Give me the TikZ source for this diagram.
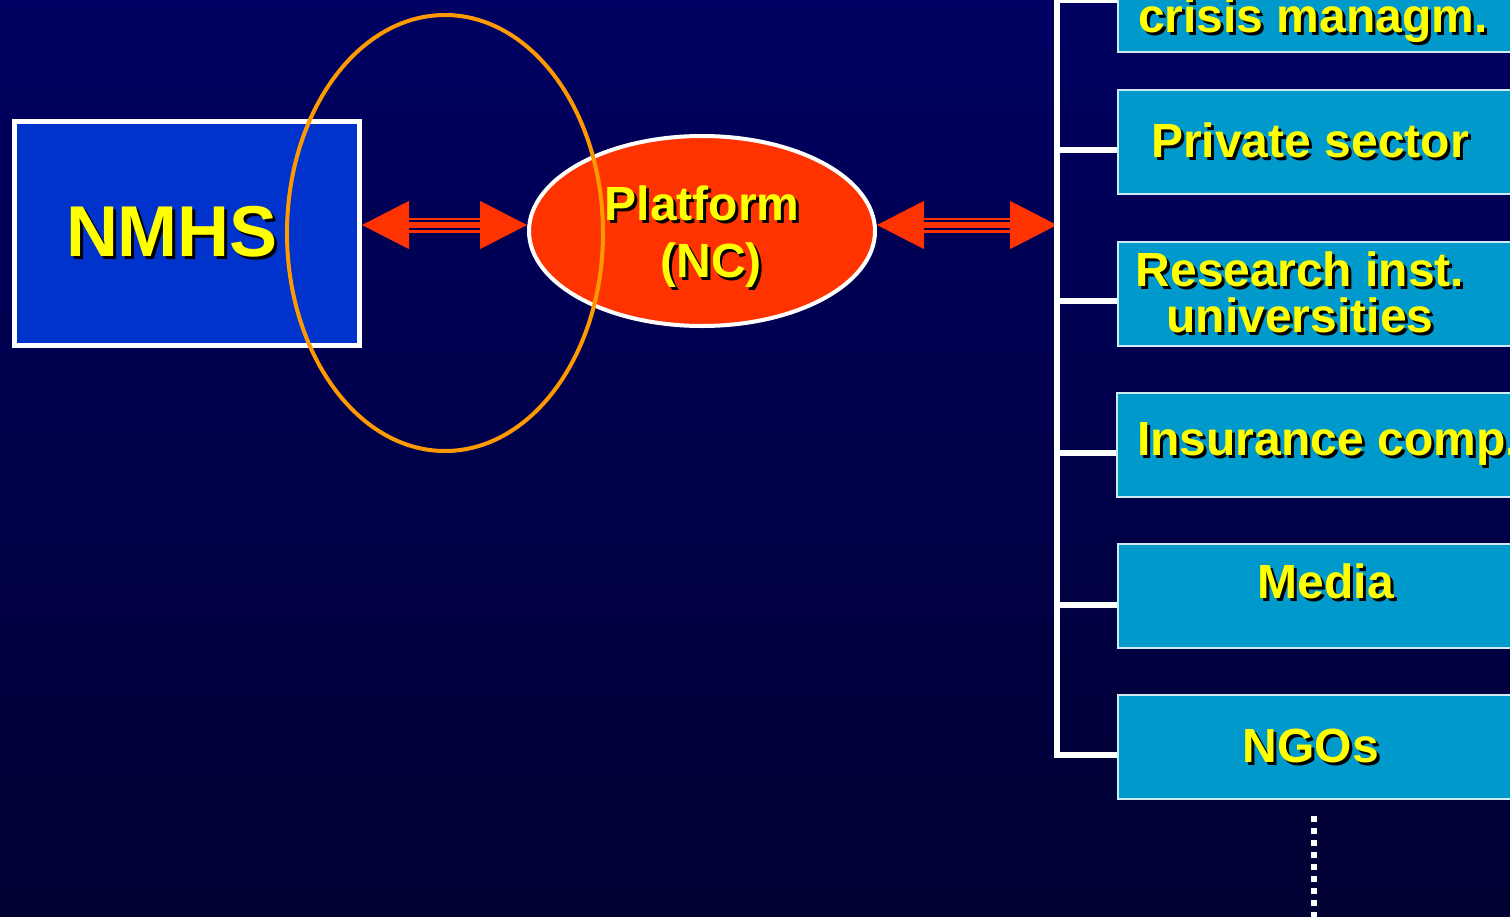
\documentclass[tikz,border=0pt]{standalone}
\usepackage{fontspec}
\setmainfont{Liberation Sans}
\usetikzlibrary{arrows.meta,shapes.geometric,positioning}

\definecolor{bgtop}{RGB}{0,0,98}
\definecolor{bgbot}{RGB}{0,0,50}
\definecolor{gapnavy}{RGB}{0,0,86}
\definecolor{nmhsblue}{RGB}{0,51,204}
\definecolor{partnerblue}{RGB}{0,153,204}
\definecolor{platred}{RGB}{255,51,0}
\definecolor{ringorange}{RGB}{255,153,0}
\definecolor{txtyellow}{RGB}{255,255,0}

% yellow text with a black drop shadow
\newcommand{\shadowed}[1]{\leavevmode\rlap{\kern1.5pt\raisebox{-1.5pt}{\color{black}#1}}#1}

\begin{document}
\begin{tikzpicture}[
    x=0.5pt, y=-0.5pt,
    >={Triangle[length=23.5pt, width=24pt]},
    heads/.style={<->, platred, line width=0.5pt},
    shaft/.style={platred, line width=7.5pt, shorten <=22pt, shorten >=22pt},
    gap/.style={gapnavy, line width=1.2pt, shorten <=23.5pt, shorten >=23.5pt},
    nmhsbox/.style={draw=white, line width=2.5pt, fill=nmhsblue, text=txtyellow, inner sep=0pt,
      minimum width=172.5pt, minimum height=112pt, font=\fontsize{36}{36}\selectfont\bfseries},
    ncbubble/.style={ellipse, draw=white, line width=2pt, fill=platred, text=txtyellow, inner sep=0pt,
      minimum width=173pt, minimum height=95pt, align=center, font=\fontsize{24}{28.5}\selectfont\bfseries},
    partner/.style={draw=white!80!partnerblue, line width=1pt, fill=partnerblue, text=txtyellow, inner sep=0pt,
      minimum width=200pt, minimum height=52pt, align=center, font=\fontsize{24}{23}\selectfont\bfseries},
    branch/.style={white, line width=3pt},
    ring/.style={ellipse, draw=ringorange, line width=2pt, inner sep=0pt, minimum width=158pt, minimum height=218pt},
    more/.style={white, line width=3pt, dash pattern=on 3pt off 3pt}
  ]

  % Background
  \useasboundingbox (0,0) rectangle (1510,916);
  \clip (0,0) rectangle (1510,916);
  \shade[top color=bgtop, bottom color=bgbot] (0,0) rectangle (1510,916);

  % Service and platform
  \node[nmhsbox] (nmhs) at (187,233.5) {\shadowed{NMHS}\hspace*{15pt}};
  \node[ncbubble, text height=53pt] (platform) at (702,231) {\shadowed{Platform}\\\hspace*{9pt}\shadowed{(NC)}};

  % Partners
  \node[partner, minimum height=30pt] (crisis) at (1318,22) {\shadowed{crisis managm.}\hspace*{5pt}};
  \node[partner] (private)   at (1318,142) {\shadowed{Private sector}\hspace*{8pt}};
  \node[partner] (research)  at (1318,294) {\shadowed{Research inst.}\hspace*{18pt}\\\shadowed{universities}\hspace*{18pt}};
  \node[partner] (insurance) at (1318,445) {\hspace*{10pt}\shadowed{Insurance comp.}};
  \node[partner, text depth=15pt] (media) at (1318,596) {\hspace*{8pt}\shadowed{Media}};
  \node[partner] (ngos)      at (1318,747) {\shadowed{NGOs}\hspace*{7pt}};

  % Arrows
  \coordinate (bus) at (1057,225);
  \coordinate (hubport) at (nmhs.east |- bus);
  \coordinate (ncin) at (platform.west |- bus);
  \coordinate (ncout) at (platform.east |- bus);
  \foreach \from/\to in {hubport/ncin, ncout/bus} {
    \draw[shaft] (\from) -- (\to);
    \draw[heads] (\from) -- (\to);
    \draw[gap] ([yshift=2pt]\from) -- ([yshift=2pt]\to);
    \draw[gap] ([yshift=-2pt]\from) -- ([yshift=-2pt]\to);
  }

  % Bracket to the partners
  \foreach \b/\dy in {crisis/11pt, private/-4pt, research/-3.25pt, insurance/-3.75pt, media/-4.25pt, ngos/-4pt} {
    \coordinate (tap\b) at ([yshift=\dy]\b.west);
    \draw[branch] (tap\b) -- (tap\b-|bus);
  }
  \draw[branch, line cap=rect] (tapcrisis-|bus) -- (tapngos-|bus);

  % More partners below
  \coordinate (tail) at (1314,930);
  \draw[more] (tail|-ngos.south) ++(0,16) -- (tail);

  % Highlight
  \node[ring] (focus) at (445,233) {};

\end{tikzpicture}
\end{document}
